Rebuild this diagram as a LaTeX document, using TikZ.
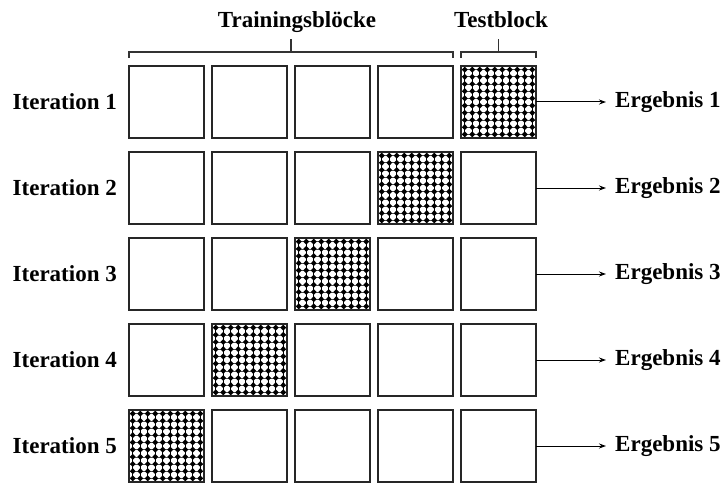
\documentclass[tikz,border=0pt]{standalone}
\usepackage{fontspec}
\setmainfont{Liberation Serif}
\usetikzlibrary{arrows.meta,calc}
\begin{document}
\begin{tikzpicture}[x=1pt,y=-1pt,
  cell/.style={draw=black!85, line width=1.3pt, minimum width=75pt, minimum height=72pt,
    inner sep=0pt, outer sep=0pt},
  lbl/.style={font=\fontsize{23}{25}\selectfont\bfseries, inner sep=0pt},
  brace/.style={draw=black!80, line width=1.1pt},
  res/.style={-{Stealth[length=7pt,width=5pt]}, line width=1pt}]
\useasboundingbox (0,0) rectangle (723,484);

% grid of blocks: rows = iterations, columns = blocks
\foreach \r in {1,...,5}{
  \foreach \c in {1,...,5}{
    \node[cell] (c\r\c) at ({129+37.5+83*(\c-1)},{66+36+86*(\r-1)}) {};
  }
}

% dotted fill of the test block in each iteration
\foreach \r/\c in {1/5,2/4,3/3,4/2,5/1}{
  \begin{scope}
    \clip (c\r\c.north west) rectangle (c\r\c.south east);
    \foreach \i in {0,...,9}{
      \draw[line width=1pt] ([xshift={3.75+7.5*\i}]c\r\c.north west) -- ([xshift={3.75+7.5*\i}]c\r\c.south west);
      \draw[line width=0.6pt, black!70] ([yshift={-3.6-7.2*\i}]c\r\c.north west) -- ([yshift={-3.6-7.2*\i}]c\r\c.north east);
    }
    \foreach \i in {0,...,9}{
      \foreach \j in {0,...,9}{
        \fill ([shift={({3.75+7.5*\i},{3.6+7.2*\j})}]c\r\c.north west)
          +(0,3) -- +(2.9,0) -- +(0,-3) -- +(-2.9,0) -- cycle;
      }
    }
  \end{scope}
  \draw[line width=1.3pt, black!85] (c\r\c.north west) rectangle (c\r\c.south east);
}

% row labels and results
\foreach \r in {1,...,5}{
  \node[lbl, anchor=east] (it\r) at (117,{102+86*(\r-1)}) {Iteration \r};
  \node[lbl, anchor=west] (er\r) at (615,{102+86*(\r-1)}) {Ergebnis \r};
  \draw[res] (c\r5.east) -- ([xshift=-9pt]er\r.west);
}

% headings
\node[lbl, anchor=base] (train) at (297,28) {Trainingsblöcke};
\node[lbl, anchor=base] (test) at (501,28) {Testblock};

% brackets over the columns
\coordinate (tl) at ([yshift=14pt]c11.north west);
\coordinate (tr) at ([yshift=14pt]c14.north east);
\coordinate (sl) at ([yshift=14pt]c15.north west);
\coordinate (sr) at ([yshift=14pt]c15.north east);
\draw[brace] ([yshift=-6pt]tl) -- (tl) -- (tr) -- ([yshift=-6pt]tr);
\draw[brace] ($(tl)!0.5!(tr)$) -- ++(0,-13);
\draw[brace] ([yshift=-6pt]sl) -- (sl) -- (sr) -- ([yshift=-6pt]sr);
\draw[brace] ($(sl)!0.5!(sr)$) -- ++(0,-13);
\end{tikzpicture}
\end{document}
